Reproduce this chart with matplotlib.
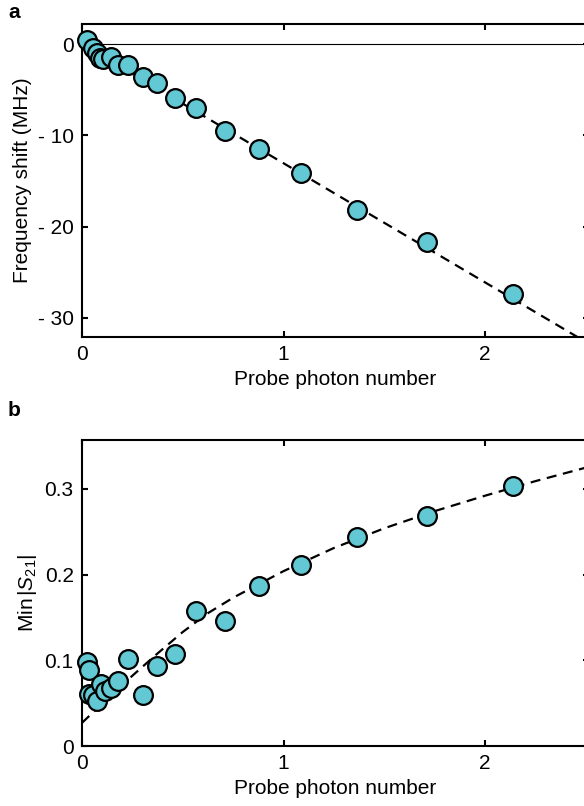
"""Frequency shift and min |S21| versus probe photon number (two panels)."""

import matplotlib

matplotlib.use("Agg")
import matplotlib.pyplot as plt  # noqa: E402

plt.rcParams["font.family"] = ["Liberation Sans", "DejaVu Sans"]
plt.rcParams["mathtext.fontset"] = "custom"
plt.rcParams["mathtext.rm"] = "Liberation Sans"
plt.rcParams["mathtext.it"] = "Liberation Sans:italic"

# panel a: frequency shift (MHz)
shift_n = [0.025, 0.055, 0.074, 0.089, 0.104, 0.144, 0.179, 0.228, 0.303, 0.372,
           0.462, 0.566, 0.710, 0.878, 1.087, 1.365, 1.712, 2.139]
shift_mhz = [0.4, -0.4, -1.0, -1.5, -1.6, -1.4, -2.3, -2.3, -3.6, -4.3,
             -5.9, -7.0, -9.5, -11.5, -14.1, -18.2, -21.7, -27.4]
shift_fit_n = [0.0, 2.52]
shift_fit_mhz = [0.0, -32.9]

# panel b: minimum of |S21|
s21_n = [0.027, 0.035, 0.036, 0.056, 0.073, 0.093, 0.114, 0.143, 0.180, 0.229,
         0.301, 0.370, 0.461, 0.565, 0.709, 0.880, 1.087, 1.367, 1.714, 2.138]
s21_min = [0.098, 0.089, 0.061, 0.060, 0.052, 0.072, 0.064, 0.068, 0.076, 0.102,
           0.060, 0.093, 0.107, 0.158, 0.146, 0.187, 0.211, 0.244, 0.268, 0.303]
s21_fit_n = [0.0, 0.125, 0.25, 0.375, 0.5, 0.625, 0.75, 1.0, 1.25, 1.5,
             1.75, 2.0, 2.25, 2.52]
s21_fit = [0.027, 0.055, 0.082, 0.108, 0.133, 0.155, 0.173, 0.204, 0.231, 0.254,
           0.274, 0.292, 0.309, 0.326]

FACE = "#62C8D3"
W, H = 584, 806
PX_PER_UNIT = 201.5


def _style(ax):
    for side in ("left", "right", "top", "bottom"):
        ax.spines[side].set_linewidth(1.5)
    ax.tick_params(direction="in", length=4, width=1.5, top=True, right=True,
                   labelsize=15, pad=6)


def _points(ax, x, y):
    ax.plot(x, y, "o", ms=13.5, mfc=FACE, mec="black", mew=1.6,
            clip_on=False, zorder=4)


fig = plt.figure(figsize=(W / 100, H / 100), dpi=100)
left_px, right_px = 82, 589
left = left_px / W
width = (right_px - left_px) / W
x_max = (right_px - left_px) / PX_PER_UNIT

ax_a = fig.add_axes([left, 1 - 337 / H, width, (337 - 24) / H])
ax_a.axhline(0, color="black", lw=0.8, zorder=1)
ax_a.plot(shift_fit_n, shift_fit_mhz, color="black", lw=1.6, dashes=(4.5, 3), zorder=2)
_points(ax_a, shift_n, shift_mhz)
ax_a.set_xlim(0, x_max)
ax_a.set_ylim(-32.1, 2.2)
ax_a.set_xticks([0, 1, 2])
ax_a.set_yticks([0, -10, -20, -30])
ax_a.set_yticklabels(["0", "- 10", "- 20", "- 30"])
ax_a.set_xlabel("Probe photon number", fontsize=15, labelpad=4)
ax_a.set_ylabel("Frequency shift (MHz)", fontsize=15, labelpad=4)
_style(ax_a)

ax_b = fig.add_axes([left, 1 - 746 / H, width, (746 - 440) / H])
ax_b.plot(s21_fit_n, s21_fit, color="black", lw=1.6, dashes=(4.5, 3), zorder=2)
_points(ax_b, s21_n, s21_min)
ax_b.set_xlim(0, x_max)
ax_b.set_ylim(0, 0.357)
ax_b.set_xticks([0, 1, 2])
ax_b.set_yticks([0, 0.1, 0.2, 0.3])
ax_b.set_yticklabels(["0", "0.1", "0.2", "0.3"])
ax_b.set_xlabel("Probe photon number", fontsize=15, labelpad=4)
ax_b.set_ylabel(r"Min$\,|S_{21}|$", fontsize=15, labelpad=4)
_style(ax_b)

fig.text(8 / W, 1 - 12 / H, "a", fontsize=15, fontweight="bold", va="center")
fig.text(8 / W, 1 - 410 / H, "b", fontsize=15, fontweight="bold", va="center")

fig.savefig("out.png", dpi=100)
